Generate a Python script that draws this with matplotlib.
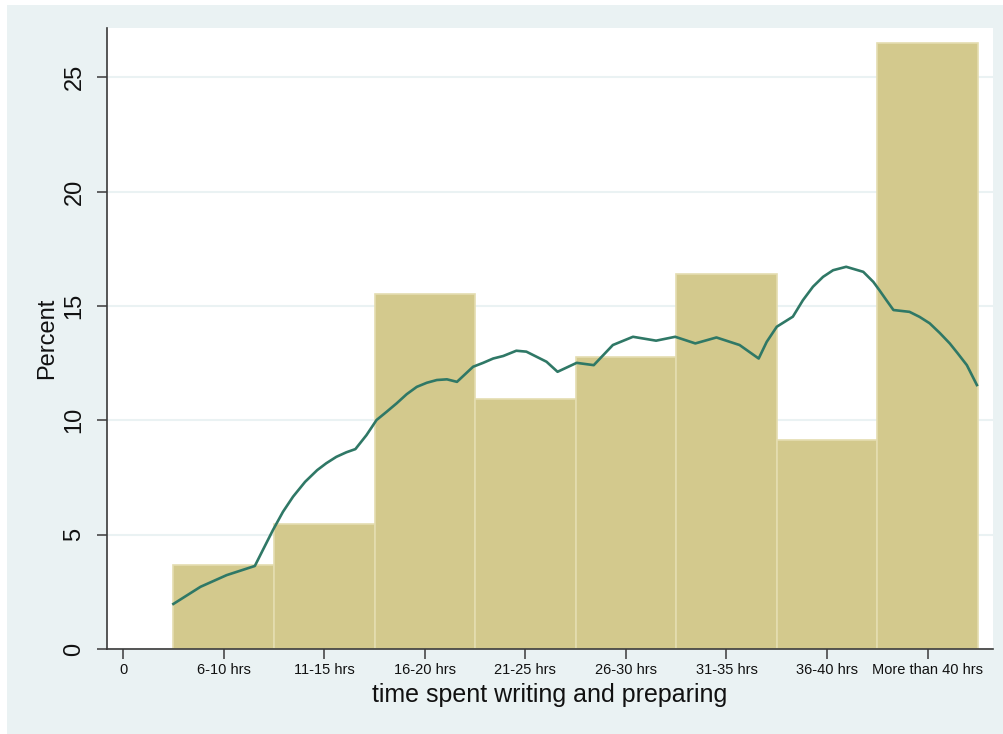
import numpy as np
import matplotlib.pyplot as plt
from matplotlib.patches import Rectangle

plt.rcParams['font.family'] = ['Liberation Sans', 'DejaVu Sans']

categories = ['6-10 hrs', '11-15 hrs', '16-20 hrs', '21-25 hrs',
              '26-30 hrs', '31-35 hrs', '36-40 hrs', 'More than 40 hrs']
percent = [3.66, 5.48, 15.5, 10.93, 12.78, 16.4, 9.13, 26.48]

# density overlay, category scale (1 = 6-10 hrs)
dens_x = [0.5, 0.77, 1.03, 1.31, 1.39, 1.49, 1.59, 1.69, 1.81, 1.93, 2.02,
          2.12, 2.22, 2.31, 2.42, 2.52, 2.62, 2.72, 2.82, 2.92, 3.02, 3.12,
          3.22, 3.32, 3.48, 3.58, 3.68, 3.78, 3.91, 4.01, 4.11, 4.21, 4.32,
          4.51, 4.68, 4.87, 5.07, 5.30, 5.49, 5.69, 5.90, 6.13, 6.32, 6.40,
          6.50, 6.66, 6.76, 6.86, 6.96, 7.06, 7.19, 7.36, 7.46, 7.52, 7.59,
          7.66, 7.82, 7.92, 8.02, 8.12, 8.22, 8.30, 8.39, 8.49]
dens_y = [1.97, 2.72, 3.23, 3.63, 4.33, 5.2, 6.0, 6.66, 7.31, 7.82, 8.12,
          8.40, 8.6, 8.74, 9.35, 10.01, 10.37, 10.74, 11.14, 11.46, 11.64, 11.76,
          11.79, 11.68, 12.34, 12.51, 12.70, 12.81, 13.04, 13.0, 12.78, 12.56,
          12.12, 12.51, 12.41, 13.29, 13.65, 13.48, 13.65, 13.36, 13.62, 13.29,
          12.70, 13.43, 14.09, 14.53, 15.25, 15.84, 16.27, 16.56, 16.71, 16.49,
          16.05, 15.69, 15.25, 14.82, 14.74, 14.52, 14.24, 13.82, 13.36, 12.92,
          12.41, 11.54]

W, H = 1004, 734
fig = plt.figure(figsize=(W / 100, H / 100), dpi=100, facecolor='white')

# light graph region behind the plot
fig.patches.append(Rectangle((7 / W, 0), (W - 7) / W, (H - 5) / H,
                             transform=fig.transFigure, facecolor='#eaf2f3',
                             edgecolor='none', zorder=-10))

ax = fig.add_axes([107 / W, (H - 649) / H, 886 / W, 621 / H])
ax.set_facecolor('white')

x = np.arange(1, len(categories) + 1)
ax.bar(x, percent, width=1.0, color='#d3c98d', edgecolor='#e4ddb0',
       linewidth=1.2, zorder=2)
ax.plot(dens_x, dens_y, color='#2f7866', lw=1.9, zorder=3,
        solid_joinstyle='round')

ax.set_xlim(-0.16, 8.65)
ax.set_ylim(0, 27.15)
ax.set_yticks([0, 5, 10, 15, 20, 25])
ax.set_xticks(np.arange(0, len(categories) + 1))
ax.set_xticklabels(['0'] + categories, fontsize=10.5, color='#111111')
ax.yaxis.grid(True, color='#eaf2f3', lw=1.5, zorder=0)
ax.set_axisbelow(True)

for s in ['top', 'right']:
    ax.spines[s].set_visible(False)
for s in ['left', 'bottom']:
    ax.spines[s].set_color('#3a3a3a')
    ax.spines[s].set_linewidth(1.2)

ax.tick_params(axis='x', length=7, width=1.1, color='#3a3a3a', pad=3)
ax.tick_params(axis='y', length=7.5, width=1.1, color='#3a3a3a', pad=8,
               labelsize=17, labelrotation=90, labelcolor='#111111')
for lab in ax.get_yticklabels():
    lab.set_va('center')

ax.set_ylabel('Percent', fontsize=17, color='#111111')
ax.yaxis.set_label_coords(-0.055, 0.5)
ax.set_xlabel('time spent writing and preparing', fontsize=18,
              color='#111111', va='center')
ax.xaxis.set_label_coords(0.5, -0.074)

fig.savefig('out.png', dpi=100, facecolor='white')
